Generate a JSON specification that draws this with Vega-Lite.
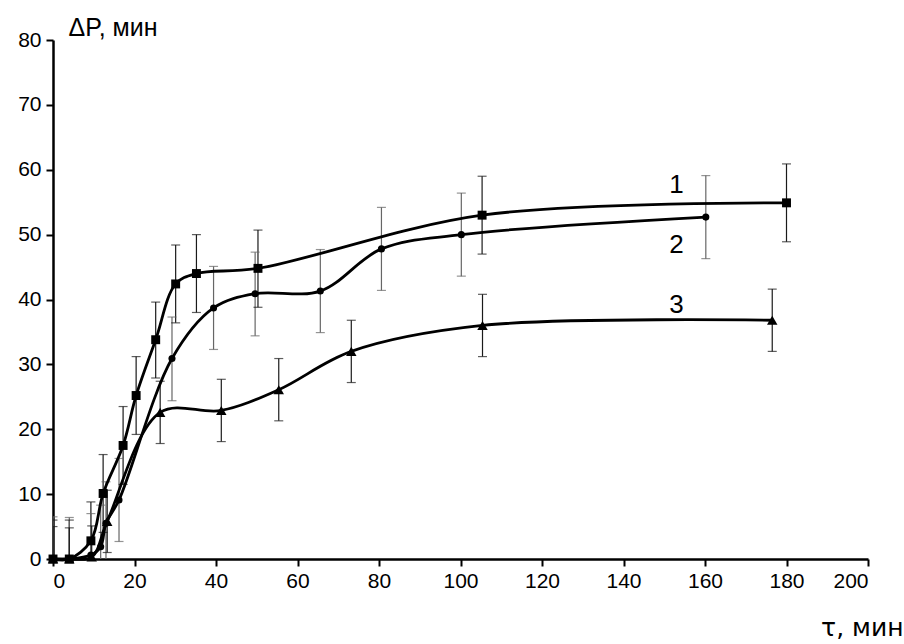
{
  "$schema": "https://vega.github.io/schema/vega-lite/v6.json",
  "width": 815,
  "height": 519,
  "autosize": {"type": "none"},
  "padding": {"left": 53, "top": 40, "right": 36, "bottom": 85},
  "background": "white",
  "config": {
    "view": {"stroke": null},
    "axis": {
      "grid": false,
      "domainColor": "black",
      "domainWidth": 2.5,
      "tickColor": "black",
      "tickWidth": 2,
      "tickSize": 7,
      "labelFont": "Liberation Sans",
      "labelFontSize": 21,
      "labelColor": "black",
      "titleFont": "Liberation Sans",
      "titleFontSize": 25,
      "titleFontWeight": "normal",
      "titleColor": "black"
    }
  },
  "datasets": {
    "pts": [
      {"s": "1", "x": 0, "y": 0, "lo": -6, "hi": 6},
      {"s": "1", "x": 4, "y": 0, "lo": -6, "hi": 6},
      {"s": "1", "x": 9.3, "y": 2.8, "lo": -3.2, "hi": 8.8},
      {"s": "1", "x": 12.3, "y": 10.1, "lo": 4.1, "hi": 16.1},
      {"s": "1", "x": 17.2, "y": 17.5, "lo": 11.5, "hi": 23.5},
      {"s": "1", "x": 20.4, "y": 25.2, "lo": 19.2, "hi": 31.2},
      {"s": "1", "x": 25.2, "y": 33.8, "lo": 27.9, "hi": 39.6},
      {"s": "1", "x": 30.1, "y": 42.4, "lo": 36.4, "hi": 48.4},
      {"s": "1", "x": 35.2, "y": 44, "lo": 38, "hi": 50},
      {"s": "1", "x": 50.3, "y": 44.8, "lo": 38.8, "hi": 50.7},
      {"s": "1", "x": 105.3, "y": 53, "lo": 47, "hi": 59},
      {"s": "1", "x": 180, "y": 54.9, "lo": 48.9, "hi": 60.9},
      {"s": "2", "x": 0, "y": 0, "lo": -6.5, "hi": 6.5},
      {"s": "2", "x": 4, "y": 0, "lo": -6.4, "hi": 6.4},
      {"s": "2", "x": 9.3, "y": 0.6, "lo": -5.8, "hi": 7},
      {"s": "2", "x": 11.7, "y": 1.9, "lo": -4.5, "hi": 8.3},
      {"s": "2", "x": 13, "y": 5.5, "lo": -0.9, "hi": 11.9},
      {"s": "2", "x": 16.2, "y": 9.1, "lo": 2.7, "hi": 15.5},
      {"s": "2", "x": 29.2, "y": 30.9, "lo": 24.4, "hi": 37.3},
      {"s": "2", "x": 39.4, "y": 38.7, "lo": 32.3, "hi": 45.1},
      {"s": "2", "x": 49.6, "y": 40.9, "lo": 34.4, "hi": 47.3},
      {"s": "2", "x": 65.6, "y": 41.3, "lo": 34.9, "hi": 47.7},
      {"s": "2", "x": 80.6, "y": 47.8, "lo": 41.4, "hi": 54.2},
      {"s": "2", "x": 100.2, "y": 50, "lo": 43.6, "hi": 56.4},
      {"s": "2", "x": 160.2, "y": 52.7, "lo": 46.3, "hi": 59.1},
      {"s": "3", "x": 0, "y": 0, "lo": -5, "hi": 5},
      {"s": "3", "x": 4, "y": 0, "lo": -4.8, "hi": 4.8},
      {"s": "3", "x": 9.5, "y": 0.3, "lo": -4.5, "hi": 5.1},
      {"s": "3", "x": 13.3, "y": 5.8, "lo": 1, "hi": 10.6},
      {"s": "3", "x": 26.3, "y": 22.6, "lo": 17.8, "hi": 27.4},
      {"s": "3", "x": 41.3, "y": 22.9, "lo": 18.1, "hi": 27.7},
      {"s": "3", "x": 55.4, "y": 26.1, "lo": 21.3, "hi": 30.9},
      {"s": "3", "x": 73.2, "y": 32, "lo": 27.2, "hi": 36.8},
      {"s": "3", "x": 105.4, "y": 36, "lo": 31.2, "hi": 40.8},
      {"s": "3", "x": 176.5, "y": 36.8, "lo": 32, "hi": 41.6}
    ],
    "labels": [
      {"x": 153, "y": 57.6, "t": "1"},
      {"x": 153, "y": 48.4, "t": "2"},
      {"x": 153, "y": 39.1, "t": "3"}
    ]
  },
  "layer": [
    {
      "data": {"name": "pts"},
      "mark": {"type": "rule", "strokeWidth": 1.2, "clip": true},
      "encoding": {
        "x": {"field": "x", "type": "quantitative", "scale": {"domain": [0, 200]},
              "axis": {"values": [0,20,40,60,80,100,120,140,160,180,200], "title": "τ, мин",
                       "titleFont": "DejaVu Sans", "titleFontSize": 25,
                       "titleX": 850, "titleY": 76, "titleAlign": "right", "titleBaseline": "alphabetic", "labelPadding": 4}},
        "y": {"field": "lo", "type": "quantitative", "scale": {"domain": [0, 80]},
              "axis": {"values": [0,10,20,30,40,50,60,70,80], "title": "ΔP, мин", "titleAngle": 0,
                       "titleX": 15, "titleY": -5, "titleAlign": "left", "titleBaseline": "alphabetic", "labelPadding": 5}},
        "y2": {"field": "hi"},
        "color": {"field": "s", "type": "nominal", "scale": {"domain": ["1","2","3"], "range": ["#1a1a1a", "#666666", "#1a1a1a"]}, "legend": null}
      }
    },
    {
      "data": {"name": "pts"},
      "mark": {"type": "tick", "orient": "horizontal", "size": 9, "thickness": 1.2, "clip": true},
      "encoding": {
        "x": {"field": "x", "type": "quantitative"},
        "y": {"field": "hi", "type": "quantitative"},
        "color": {"field": "s", "type": "nominal", "legend": null}
      }
    },
    {
      "data": {"name": "pts"},
      "mark": {"type": "tick", "orient": "horizontal", "size": 9, "thickness": 1.2, "clip": true},
      "encoding": {
        "x": {"field": "x", "type": "quantitative"},
        "y": {"field": "lo", "type": "quantitative"},
        "color": {"field": "s", "type": "nominal", "legend": null}
      }
    },
    {
      "data": {"name": "pts"},
      "mark": {"type": "line", "interpolate": "catmull-rom", "color": "black", "strokeWidth": 2.8},
      "encoding": {
        "x": {"field": "x", "type": "quantitative"},
        "y": {"field": "y", "type": "quantitative"},
        "detail": {"field": "s", "type": "nominal"}
      }
    },
    {
      "data": {"name": "pts"},
      "transform": [{"filter": "datum.s == '1'"}],
      "mark": {"type": "point", "shape": "square", "size": 80, "filled": true, "color": "black", "opacity": 1},
      "encoding": {
        "x": {"field": "x", "type": "quantitative"},
        "y": {"field": "y", "type": "quantitative"}
      }
    },
    {
      "data": {"name": "pts"},
      "transform": [{"filter": "datum.s == '2'"}],
      "mark": {"type": "point", "shape": "circle", "size": 50, "filled": true, "color": "black", "opacity": 1},
      "encoding": {
        "x": {"field": "x", "type": "quantitative"},
        "y": {"field": "y", "type": "quantitative"}
      }
    },
    {
      "data": {"name": "pts"},
      "transform": [{"filter": "datum.s == '3'"}],
      "mark": {"type": "point", "shape": "triangle-up", "size": 110, "filled": true, "color": "black", "opacity": 1},
      "encoding": {
        "x": {"field": "x", "type": "quantitative"},
        "y": {"field": "y", "type": "quantitative"}
      }
    },
    {
      "data": {"name": "labels"},
      "mark": {"type": "text", "font": "Liberation Sans", "fontSize": 26, "color": "black", "baseline": "middle", "align": "center"},
      "encoding": {
        "x": {"field": "x", "type": "quantitative"},
        "y": {"field": "y", "type": "quantitative"},
        "text": {"field": "t"}
      }
    }
  ]
}
